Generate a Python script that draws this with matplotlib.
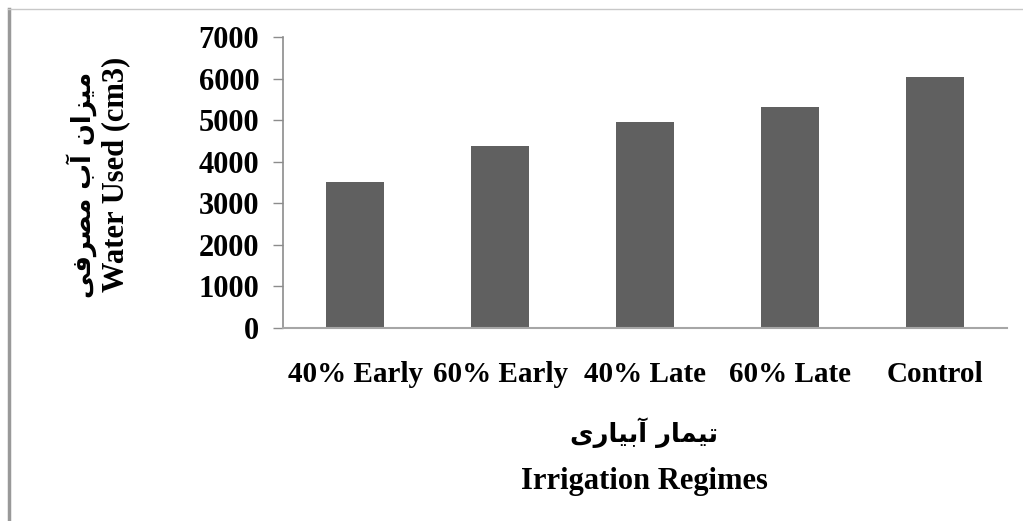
import matplotlib.pyplot as plt
from matplotlib.lines import Line2D

# water used per irrigation regime (cm3)
regimes = ["40% Early", "60% Early", "40% Late", "60% Late", "Control"]
water_used = [3520, 4370, 4950, 5310, 6040]
yticks = [0, 1000, 2000, 3000, 4000, 5000, 6000, 7000]

# Persian labels written in visual order with presentation forms
# (matplotlib does no Arabic shaping / bidi on its own)
ylabel_fa = "\uFEF0\uFED3\uFEAE\uFEBC\uFEE3 \uFE8F\uFE81 \uFEE5\uFE8D\uFEB0\uFEF4\uFEE3"
xlabel_fa = "\uFEEF\uFEAD\uFE8E\uFEF4\uFE91\uFE81 \uFEAD\uFE8E\uFEE4\uFEF4\uFE97"
ylabel_en = "Water Used (cm3)"
xlabel_en = "Irrigation Regimes"

serif = ["Liberation Serif", "DejaVu Serif"]
plt.rcParams["font.family"] = serif

fig = plt.figure(figsize=(10.23, 5.21), dpi=100)
ax = fig.add_axes([0.2766, 0.3704, 0.9844 - 0.2766, 0.929 - 0.3704])

x = range(len(regimes))
ax.bar(x, water_used, width=0.4, color="#606060", zorder=2)

ax.set_xlim(-0.5, len(regimes) - 0.5)
ax.set_ylim(0, 7000)
ax.set_yticks(yticks)
ax.set_yticklabels([str(t) for t in yticks], fontsize=22, fontweight="bold")
ax.set_xticks(list(x))
ax.set_xticklabels(regimes, fontsize=21, fontweight="bold")

for s in ["top", "right"]:
    ax.spines[s].set_visible(False)
ax.spines["left"].set_color("#8c8c8c")
ax.spines["bottom"].set_color("#a6a6a6")
ax.spines["left"].set_linewidth(1.2)
ax.spines["bottom"].set_linewidth(1.5)
ax.tick_params(axis="y", length=7, width=1.0, color="#8c8c8c", pad=10)
ax.tick_params(axis="x", length=0, pad=24)

# axis titles: Persian line above / left of the English one
fig.text(0.630, 1 - 433 / 521, xlabel_fa, family=["DejaVu Sans"], fontsize=18.5,
         fontweight="bold", ha="center", va="center")
fig.text(0.630, 1 - 481 / 521, xlabel_en, fontsize=22, fontweight="bold",
         ha="center", va="center")
fig.text(82 / 1023, 1 - 185 / 521, ylabel_fa, family=["DejaVu Sans"], fontsize=18.5,
         fontweight="bold", rotation=90, ha="center", va="center")
fig.text(116 / 1023, 1 - 174 / 521, ylabel_en, fontsize=22, fontweight="bold",
         rotation=90, ha="center", va="center")

# outer frame lines of the chart area
fig.add_artist(Line2D([9 / 1023, 9 / 1023], [0, 1 - 9 / 521], color="#999999", lw=2.5))
fig.add_artist(Line2D([8 / 1023, 1], [1 - 9 / 521, 1 - 9 / 521], color="#c8c8c8", lw=1.0))

fig.savefig("out.png", dpi=100)
